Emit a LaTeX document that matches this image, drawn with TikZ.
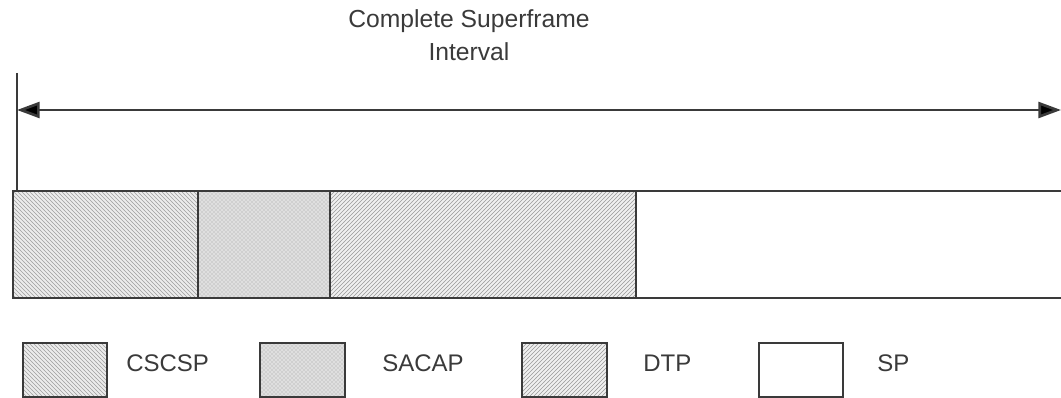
\documentclass[tikz,border=0pt]{standalone}
\usepackage{fontspec}
\setmainfont{Liberation Sans}
\usetikzlibrary{patterns,arrows.meta}
\definecolor{edge}{HTML}{3A3A3A}
\definecolor{txt}{HTML}{3A3A3A}
\begin{document}
\begin{tikzpicture}[x=0.75pt,y=-0.75pt,
  seg/.style={draw=edge,line width=2pt},
  cscsp/.style={pattern=north west lines,pattern color=gray!75},
  sacap/.style={pattern=crosshatch dots,pattern color=gray!75},
  dtp/.style={pattern=north east lines,pattern color=gray!80},
  lbl/.style={font=\fontsize{18}{20}\selectfont,text=txt,anchor=west,inner sep=0pt},
  legbox/.style={draw=edge,line width=2pt}]
\useasboundingbox (0,0) rectangle (1061,398);
% title
\node[font=\fontsize{18.5}{25}\selectfont,text=txt,align=center] (title) at (469,35) {Complete Superframe\\Interval};
% arrow
\coordinate (tickTop) at (17,73);
\coordinate (tickBot) at (17,190);
\draw[edge,line width=1.6pt] (tickTop) -- (tickBot);
\coordinate (arrL) at (17,110);
\coordinate (arrR) at (1061,110);
\draw[edge,line width=2pt,{Triangle[length=17pt,width=12pt,fill=black]}-{Triangle[length=17pt,width=12pt,fill=black]}] (arrL) -- (arrR);
% bar segments
\fill[white!85!gray] (13,191) rectangle (198,298);
\fill[cscsp] (13,191) rectangle (198,298);
\fill[gray!25] (198,191) rectangle (330,298);
\fill[sacap] (198,191) rectangle (330,298);
\fill[white!88!gray] (330,191) rectangle (636,298);
\fill[dtp] (330,191) rectangle (636,298);
\draw[seg] (1062,191) -- (13,191) -- (13,298) -- (1062,298);
\draw[seg] (198,191) -- (198,298);
\draw[seg] (330,191) -- (330,298);
\draw[seg] (636,191) -- (636,298);
% legend
\fill[white!85!gray] (23,343) rectangle (107,397);
\fill[cscsp] (23,343) rectangle (107,397);
\draw[legbox] (23,343) rectangle (107,397);
\node[lbl] (l1) at (126,363) {CSCSP};
\fill[gray!25] (260,343) rectangle (345,397);
\fill[sacap] (260,343) rectangle (345,397);
\draw[legbox] (260,343) rectangle (345,397);
\node[lbl] (l2) at (382,363) {SACAP};
\fill[white!88!gray] (522,343) rectangle (607,397);
\fill[dtp] (522,343) rectangle (607,397);
\draw[legbox] (522,343) rectangle (607,397);
\node[lbl] (l3) at (643,363) {DTP};
\draw[legbox] (759,343) rectangle (843,397);
\node[lbl] (l4) at (877,363) {SP};
\end{tikzpicture}
\end{document}
